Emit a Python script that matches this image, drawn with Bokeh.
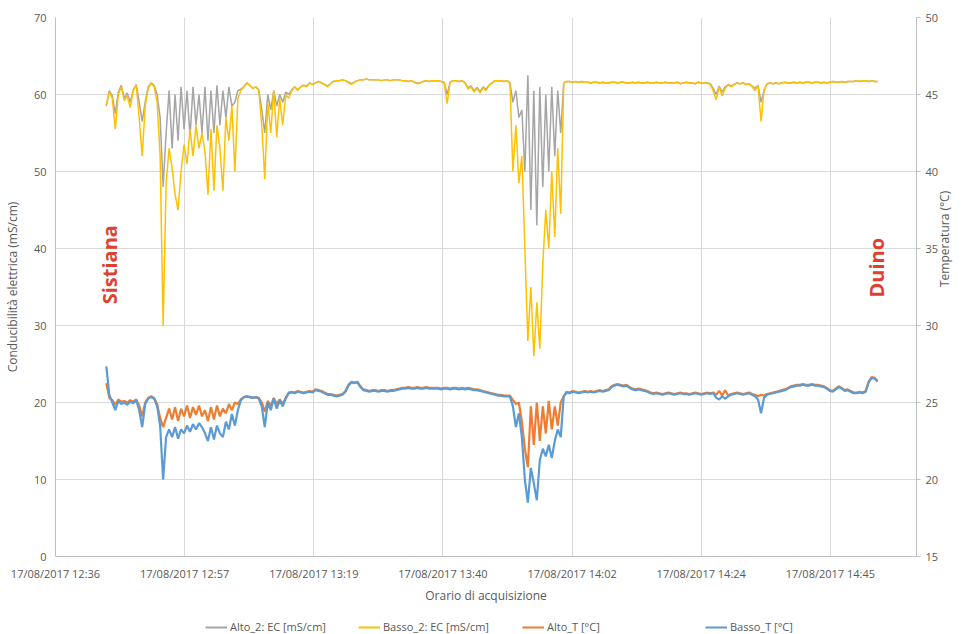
import math
import pandas as pd
from bokeh.plotting import figure
from bokeh.layouts import column
from bokeh.models import (Range1d, LinearAxis, FixedTicker, DatetimeTickFormatter,
                          Legend, LegendItem, Label, ColumnDataSource)
from bokeh.embed import file_html
from bokeh.resources import INLINE

# ---------------- data ----------------
start_time = "2017-08-17 12:44:30"   # first sample, 30 s sampling

ec_basso = [  # Basso_2: EC [mS/cm]
    58.7, 60.3, 59.5, 55.5, 60.0, 61.0, 59.2, 59.8, 58.3, 60.5,
    61.2, 57.0, 52.0, 58.5, 60.8, 61.5, 61.0, 59.0, 52.0, 30.0,
    48.5, 53.0, 50.5, 47.0, 45.0, 50.0, 53.5, 51.0, 55.5, 52.0,
    56.0, 53.0, 55.0, 52.5, 47.0, 55.5, 47.5, 56.0, 53.0, 47.5,
    57.0, 54.0, 58.5, 50.0, 59.5, 60.5, 61.0, 61.5, 61.2, 60.8,
    61.0, 60.5, 56.0, 49.0, 59.0, 55.0, 60.5, 54.5, 59.5, 56.0,
    60.0, 59.5, 60.5, 61.0, 60.5, 61.0, 61.2, 61.0, 61.5, 61.3,
    61.5, 61.7, 61.5, 61.3, 61.0, 61.4, 61.7, 61.8, 61.8, 61.9,
    61.8, 61.5, 61.3, 61.6, 61.8, 61.9, 61.9, 62.0, 61.9, 61.9,
    61.9, 61.9, 61.8, 61.9, 61.9, 61.8, 61.9, 61.9, 61.9, 61.8,
    61.8, 61.7, 61.8, 61.6, 61.4, 61.5, 61.7, 61.8, 61.7, 61.8,
    61.8, 61.8, 61.7, 61.5, 58.8, 61.6, 61.8, 61.8, 61.7, 61.8,
    61.5, 60.7, 61.0, 60.3, 60.8, 60.2, 60.9, 60.5, 61.2, 61.5,
    61.8, 61.8, 61.8, 61.7, 61.8, 61.5, 50.0, 56.0, 48.5, 52.0,
    40.0, 28.0, 35.0, 26.0, 33.0, 27.0, 38.0, 45.0, 40.0, 50.0,
    41.5, 53.0, 44.5, 61.5, 61.7, 61.7, 61.6, 61.7, 61.6, 61.7,
    61.6, 61.6, 61.5, 61.6, 61.6, 61.5, 61.6, 61.5, 61.5, 61.6,
    61.6, 61.5, 61.6, 61.6, 61.5, 61.5, 61.6, 61.5, 61.6, 61.5,
    61.5, 61.6, 61.5, 61.5, 61.6, 61.5, 61.5, 61.6, 61.5, 61.5,
    61.5, 61.6, 61.4, 61.5, 61.6, 61.5, 61.5, 61.4, 61.6, 61.5,
    61.5, 61.5, 61.3, 60.5, 59.3, 61.0, 59.8, 60.8, 61.3, 61.0,
    61.3, 61.5, 61.4, 61.5, 61.3, 61.4, 61.0, 60.5, 61.2, 56.5,
    60.5, 61.4, 61.5, 61.4, 61.5, 61.4, 61.5, 61.6, 61.5, 61.5,
    61.6, 61.5, 61.6, 61.5, 61.6, 61.6, 61.5, 61.6, 61.6, 61.5,
    61.6, 61.5, 61.6, 61.7, 61.6, 61.6, 61.7, 61.6, 61.7, 61.7,
    61.7, 61.8, 61.7, 61.8, 61.8, 61.7, 61.8, 61.7, 61.7,
]

ec_alto = [  # Alto_2: EC [mS/cm]
    58.5, 60.5, 59.8, 57.5, 60.3, 61.2, 59.5, 60.2, 59.0, 60.6,
    61.3, 59.0, 56.5, 59.0, 61.0, 61.5, 61.2, 60.0, 57.0, 48.0,
    55.0, 60.5, 53.0, 60.0, 54.0, 61.0, 55.5, 60.5, 54.5, 61.0,
    56.0, 60.0, 55.0, 61.0, 54.0, 60.5, 55.0, 61.2, 56.0, 60.5,
    57.0, 61.0, 58.5, 59.0, 60.5, 60.7, 61.0, 61.5, 61.2, 60.8,
    61.0, 60.6, 58.0, 55.0, 60.0, 58.0, 60.5, 58.5, 60.0, 59.0,
    60.3, 60.0, 60.6, 61.0, 60.6, 61.0, 61.2, 61.1, 61.5, 61.3,
    61.5, 61.7, 61.5, 61.3, 61.1, 61.4, 61.7, 61.8, 61.8, 61.9,
    61.8, 61.6, 61.4, 61.6, 61.8, 61.9, 61.9, 62.0, 61.9, 61.9,
    61.9, 61.9, 61.8, 61.9, 61.9, 61.8, 61.9, 61.9, 61.9, 61.8,
    61.8, 61.7, 61.8, 61.6, 61.5, 61.5, 61.7, 61.8, 61.7, 61.8,
    61.8, 61.8, 61.7, 61.6, 60.0, 61.6, 61.8, 61.8, 61.7, 61.8,
    61.5, 60.9, 61.1, 60.5, 60.9, 60.4, 61.0, 60.7, 61.2, 61.5,
    61.8, 61.8, 61.8, 61.7, 61.8, 61.5, 59.0, 60.5, 57.0, 58.0,
    50.0, 62.5, 45.0, 60.5, 43.0, 61.0, 48.0, 60.0, 50.0, 61.0,
    52.0, 60.5, 55.0, 61.5, 61.7, 61.7, 61.6, 61.7, 61.6, 61.7,
    61.6, 61.6, 61.5, 61.6, 61.6, 61.5, 61.6, 61.5, 61.5, 61.6,
    61.6, 61.5, 61.6, 61.6, 61.5, 61.5, 61.6, 61.5, 61.6, 61.5,
    61.5, 61.6, 61.5, 61.5, 61.6, 61.5, 61.5, 61.6, 61.5, 61.5,
    61.5, 61.6, 61.4, 61.5, 61.6, 61.5, 61.5, 61.4, 61.6, 61.5,
    61.5, 61.5, 61.4, 60.8, 60.0, 61.1, 60.3, 61.0, 61.3, 61.1,
    61.3, 61.5, 61.4, 61.5, 61.3, 61.4, 61.1, 60.8, 61.2, 59.0,
    60.5, 61.4, 61.5, 61.4, 61.5, 61.4, 61.5, 61.6, 61.5, 61.5,
    61.6, 61.5, 61.6, 61.5, 61.6, 61.6, 61.5, 61.6, 61.6, 61.5,
    61.6, 61.5, 61.6, 61.7, 61.6, 61.6, 61.7, 61.6, 61.7, 61.7,
    61.7, 61.8, 61.7, 61.8, 61.8, 61.7, 61.8, 61.7, 61.7,
]

t_basso = [  # Basso_T [°C]
    27.35, 25.5, 25.0, 24.5, 25.1, 24.9, 25.0, 24.85, 25.05, 24.95,
    25.15, 24.5, 23.4, 24.9, 25.25, 25.35, 25.25, 24.75, 23.5, 20.0,
    22.75, 23.25, 22.75, 23.4, 22.65, 23.25, 23.0, 23.5, 23.1, 23.6,
    23.25, 23.65, 23.4, 23.0, 22.5, 23.4, 22.6, 23.5, 23.0, 22.75,
    23.75, 23.25, 24.25, 23.5, 24.5, 25.15, 25.35, 25.4, 25.35, 25.3,
    25.35, 25.25, 24.75, 23.4, 25.0, 24.5, 25.25, 24.6, 25.15, 24.75,
    25.25, 25.6, 25.65, 25.6, 25.7, 25.65, 25.6, 25.65, 25.7, 25.65,
    25.8, 25.75, 25.7, 25.6, 25.5, 25.5, 25.45, 25.4, 25.45, 25.5,
    25.7, 26.1, 26.3, 26.25, 26.3, 26.0, 25.8, 25.75, 25.7, 25.75,
    25.75, 25.7, 25.75, 25.75, 25.7, 25.75, 25.75, 25.8, 25.85, 25.9,
    25.9, 25.95, 25.9, 25.9, 25.95, 25.9, 25.9, 25.95, 25.9, 25.9,
    25.9, 25.9, 25.85, 25.9, 25.9, 25.85, 25.9, 25.9, 25.85, 25.9,
    25.85, 25.9, 25.85, 25.8, 25.8, 25.75, 25.7, 25.65, 25.6, 25.55,
    25.5, 25.45, 25.45, 25.4, 25.4, 25.4, 24.75, 23.4, 24.3, 22.75,
    20.0, 18.5, 20.75, 19.75, 18.65, 21.25, 22.0, 21.5, 22.25, 21.4,
    22.5, 23.25, 22.75, 25.4, 25.65, 25.6, 25.7, 25.65, 25.6, 25.65,
    25.7, 25.65, 25.7, 25.65, 25.7, 25.75, 25.7, 25.75, 25.8, 26.0,
    26.1, 26.15, 26.1, 26.05, 26.1, 25.95, 25.85, 25.8, 25.85, 25.8,
    25.75, 25.7, 25.6, 25.55, 25.6, 25.55, 25.5, 25.55, 25.6, 25.55,
    25.5, 25.55, 25.6, 25.55, 25.55, 25.5, 25.55, 25.6, 25.55, 25.5,
    25.55, 25.6, 25.55, 25.6, 25.3, 25.2, 25.4, 25.25, 25.4, 25.5,
    25.55, 25.6, 25.55, 25.5, 25.55, 25.6, 25.5, 25.4, 25.2, 24.3,
    25.3, 25.5, 25.55, 25.6, 25.65, 25.7, 25.75, 25.8, 25.9, 26.0,
    26.05, 26.1, 26.1, 26.15, 26.1, 26.1, 26.15, 26.1, 26.1, 26.05,
    26.0, 25.9, 25.75, 25.7, 25.85, 26.0, 25.9, 25.75, 25.8, 25.7,
    25.6, 25.6, 25.65, 25.6, 25.7, 26.3, 26.6, 26.55, 26.4,
]

t_alto = [  # Alto_T [°C]
    26.25, 25.3, 25.15, 24.85, 25.2, 25.05, 25.1, 25.0, 25.15, 25.05,
    25.2, 24.8, 24.1, 25.0, 25.3, 25.4, 25.3, 24.9, 24.0, 23.4,
    24.0, 24.6, 23.9, 24.7, 23.8, 24.6, 24.1, 24.8, 24.0, 24.7,
    24.2, 24.8, 24.1, 24.5, 23.8, 24.7, 23.9, 24.8, 24.1, 24.6,
    24.3, 24.9, 24.5, 25.0, 24.9, 25.2, 25.35, 25.4, 25.35, 25.3,
    25.35, 25.3, 25.0, 24.4, 25.1, 24.8, 25.3, 24.9, 25.2, 24.9,
    25.3, 25.65, 25.7, 25.65, 25.75, 25.7, 25.65, 25.7, 25.75, 25.7,
    25.85, 25.8, 25.75, 25.65, 25.55, 25.55, 25.5, 25.45, 25.5, 25.55,
    25.75, 26.15, 26.35, 26.3, 26.35, 26.05, 25.85, 25.8, 25.75, 25.8,
    25.8, 25.75, 25.8, 25.8, 25.75, 25.8, 25.8, 25.85, 25.9, 25.95,
    25.95, 26.0, 25.95, 25.95, 26.0, 25.95, 25.95, 26.0, 25.95, 25.95,
    25.95, 25.95, 25.9, 25.95, 25.95, 25.9, 25.95, 25.95, 25.9, 25.95,
    25.9, 25.95, 25.9, 25.85, 25.85, 25.8, 25.75, 25.7, 25.65, 25.6,
    25.55, 25.5, 25.5, 25.45, 25.45, 25.45, 25.15, 24.9, 25.0, 23.75,
    22.0, 20.8, 24.75, 22.25, 25.0, 22.5, 24.75, 23.0, 25.1, 23.25,
    24.75, 23.5, 25.0, 25.4, 25.7, 25.65, 25.75, 25.7, 25.65, 25.7,
    25.75, 25.7, 25.75, 25.7, 25.75, 25.8, 25.75, 25.8, 25.85, 26.05,
    26.15, 26.2, 26.15, 26.1, 26.15, 26.0, 25.9, 25.85, 25.9, 25.85,
    25.8, 25.75, 25.65, 25.6, 25.65, 25.6, 25.55, 25.6, 25.65, 25.6,
    25.55, 25.6, 25.65, 25.6, 25.6, 25.55, 25.6, 25.65, 25.6, 25.55,
    25.6, 25.65, 25.6, 25.65, 25.5, 25.75, 25.45, 25.8, 25.45, 25.55,
    25.6, 25.65, 25.6, 25.55, 25.6, 25.65, 25.55, 25.5, 25.4, 25.5,
    25.45, 25.55, 25.6, 25.65, 25.7, 25.75, 25.8, 25.85, 25.95, 26.05,
    26.1, 26.15, 26.15, 26.2, 26.15, 26.15, 26.2, 26.15, 26.15, 26.1,
    26.05, 25.95, 25.8, 25.75, 25.9, 26.05, 25.95, 25.8, 25.85, 25.75,
    25.65, 25.65, 25.7, 25.65, 25.75, 26.35, 26.65, 26.6, 26.35,
]

x_tick_times = ["2017-08-17 12:36:00", "2017-08-17 12:57:36", "2017-08-17 13:19:12",
                "2017-08-17 13:40:48", "2017-08-17 14:02:24", "2017-08-17 14:24:00",
                "2017-08-17 14:45:36"]
x_start, x_end = "2017-08-17 12:36:00", "2017-08-17 15:00:00"
ec_ticks = [0, 10, 20, 30, 40, 50, 60, 70]
t_ticks = [15, 20, 25, 30, 35, 40, 45, 50]
site_labels = [("Sistiana", "2017-08-17 12:45:06", 37.9), ("Duino", "2017-08-17 14:53:22", 37.5)]

series_names = ["Alto_2: EC [mS/cm]", "Basso_2: EC [mS/cm]", "Alto_T [°C]", "Basso_T [°C]"]
colors = ["#A5A5A5", "#FFC000", "#ED7D31", "#5B9BD5"]

# ---------------- figure ----------------
def ms(s):
    return pd.Timestamp(s).value / 1e6

times = pd.date_range(start_time, periods=len(ec_basso), freq="30s")
src = ColumnDataSource(dict(t=times, ea=ec_alto, eb=ec_basso, ta=t_alto, tb=t_basso))

FONT = "Open Sans"
TXT = "#595959"
WIDTH = 964

p = figure(width=WIDTH, height=610, x_axis_type="datetime",
           x_range=Range1d(ms(x_start), ms(x_end)), y_range=Range1d(0, 70),
           output_backend="svg", toolbar_location=None,
           min_border_left=53, min_border_right=44, min_border_top=17, min_border_bottom=54)
p.extra_y_ranges = {"temp": Range1d(15, 50)}
p.outline_line_color = None
p.background_fill_color = "white"

line_widths = [1.5, 1.5, 2.2, 2.2]
r1 = p.line("t", "ea", source=src, color=colors[0], line_width=line_widths[0])
r2 = p.line("t", "eb", source=src, color=colors[1], line_width=line_widths[1])
r3 = p.line("t", "ta", source=src, color=colors[2], line_width=line_widths[2], y_range_name="temp")
r4 = p.line("t", "tb", source=src, color=colors[3], line_width=line_widths[3], y_range_name="temp")

# axes
xa = p.xaxis[0]
xa.ticker = FixedTicker(ticks=[ms(s) for s in x_tick_times])
fmt = "%d/%m/%Y %H:%M"
xa.formatter = DatetimeTickFormatter(seconds=fmt, minsec=fmt, minutes=fmt, hourmin=fmt,
                                     hours=fmt, days=fmt, months=fmt, years=fmt)
xa.axis_label = "Orario di acquisizione"

ya = p.yaxis[0]
ya.ticker = FixedTicker(ticks=ec_ticks)
ya.axis_label = "Conducibilità elettrica (mS/cm)"

yr = LinearAxis(y_range_name="temp", axis_label="Temperatura (°C)")
yr.ticker = FixedTicker(ticks=t_ticks)
p.add_layout(yr, "right")

for ax in (xa, ya, yr):
    ax.axis_line_color = "#BFBFBF"
    ax.major_tick_line_color = "#BFBFBF"
    ax.major_tick_out = 4
    ax.major_tick_in = 0
    ax.minor_tick_line_color = None
    ax.major_label_text_font = FONT
    ax.major_label_text_font_size = "11px"
    ax.major_label_text_color = TXT
    ax.axis_label_text_font = FONT
    ax.axis_label_text_font_size = "12px"
    ax.axis_label_text_font_style = "normal"
    ax.axis_label_text_color = TXT
ya.major_tick_line_color = None
xa.major_tick_line_color = None
xa.major_label_standoff = 5
xa.axis_label_standoff = 3
ya.axis_label_standoff = 10
yr.major_label_standoff = 5
yr.axis_label_standoff = 3
yr.axis_label_orientation = math.pi / 2

p.xgrid.ticker = xa.ticker
p.xgrid.grid_line_color = "#D9D9D9"
p.ygrid.grid_line_color = "#D9D9D9"

# site labels
for name, tstr, yv in site_labels:
    p.add_layout(Label(x=ms(tstr), y=yv, text=name, angle=math.pi / 2,
                       text_align="center", text_baseline="middle",
                       text_font=FONT, text_font_size="20px", text_font_style="bold",
                       text_color="#E0402F"))

# ---------------- legend strip (same series, drawn out of view; only keys show) ----------------
lf = figure(width=WIDTH, height=24, x_range=Range1d(0, 1), y_range=Range1d(0, 1),
            output_backend="svg", toolbar_location=None,
            min_border_left=0, min_border_right=0, min_border_top=0, min_border_bottom=0)
lf.axis.visible = False
lf.grid.visible = False
lf.outline_line_color = None
keys = [lf.line("t", col, source=src, color=c, line_width=2)
        for col, c in zip(["ea", "eb", "ta", "tb"], colors)]

legend_x = [150, 303, 467, 650]   # px from the (aligned) frame's left edge
for name, r, lx in zip(series_names, keys, legend_x):
    lg = Legend(items=[LegendItem(label=name, renderers=[r])],
                location=(lx, 0), orientation="horizontal",
                label_text_font=FONT, label_text_font_size="11px", label_text_color=TXT,
                glyph_width=22, glyph_height=12, label_standoff=3, padding=2, margin=0,
                border_line_color=None, background_fill_alpha=0)
    lf.add_layout(lg, "center")

open("out.html", "w").write(file_html(column(p, lf, spacing=0), INLINE))
